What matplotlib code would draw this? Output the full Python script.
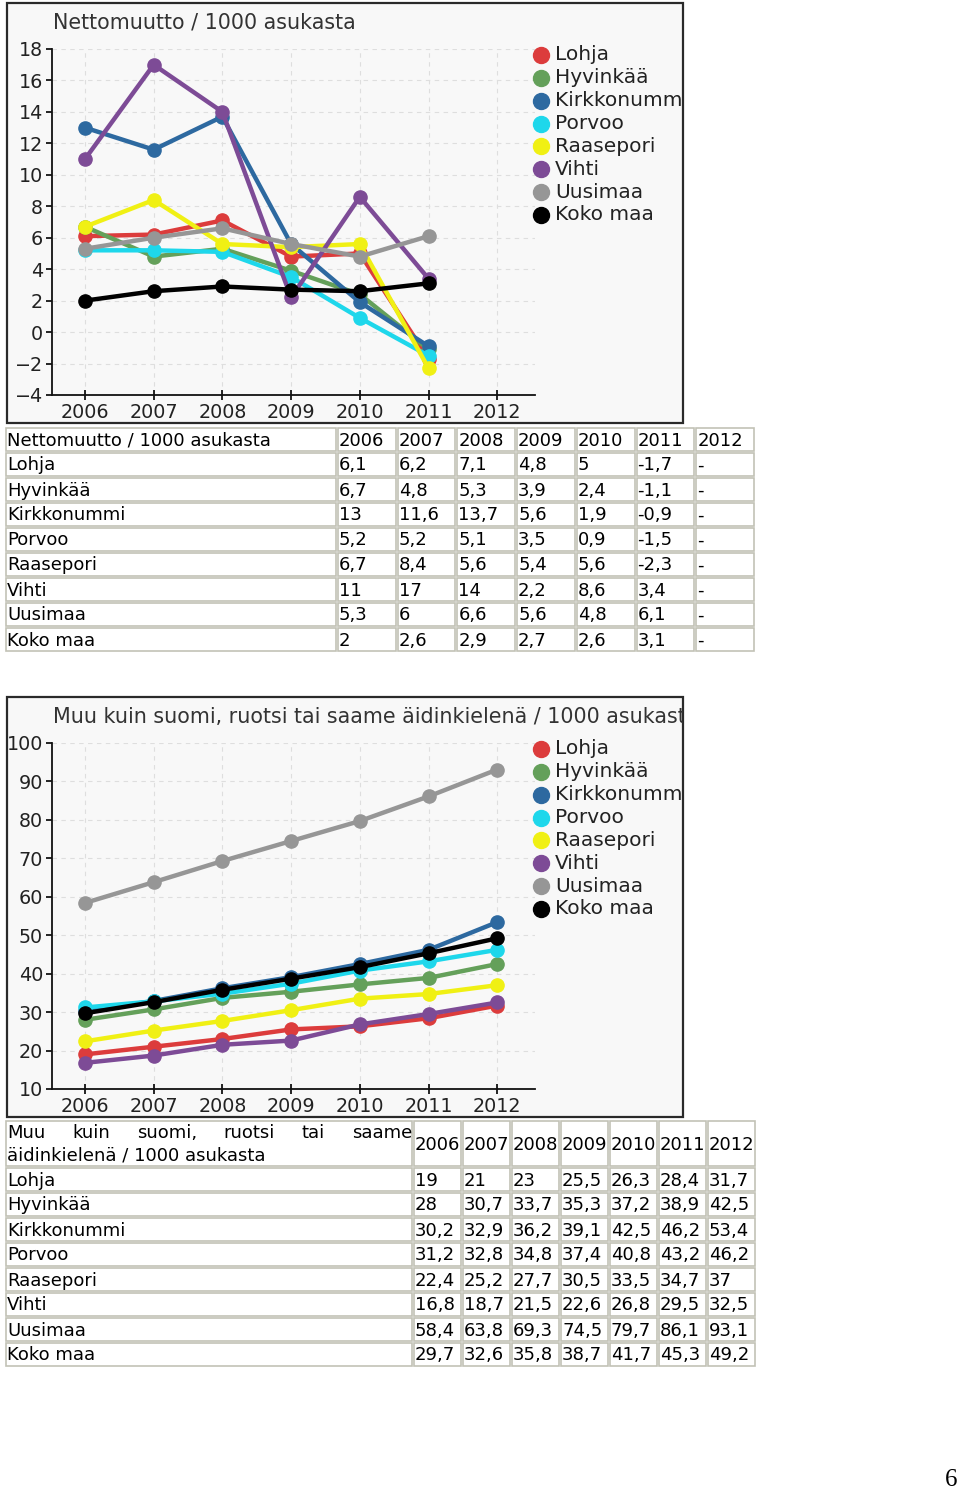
import numpy as np
import matplotlib.pyplot as plt
from matplotlib.patches import Rectangle
from matplotlib.lines import Line2D
from matplotlib.transforms import Bbox

OUTPUT_FILENAME = "out.png"
W, H = 960, 1491

# --- data ---
YEARS = [2006, 2007, 2008, 2009, 2010, 2011, 2012]
SERIES = ["Lohja", "Hyvinkää", "Kirkkonummi", "Porvoo", "Raasepori",
          "Vihti", "Uusimaa", "Koko maa"]
COLORS = ["#dc3c3c", "#64a05a", "#2d69a0", "#1ed7eb", "#f0f014",
          "#7d4b96", "#969696", "#000000"]

NET_TITLE = "Nettomuutto / 1000 asukasta"
net_lohja = [6.1, 6.2, 7.1, 4.8, 5, -1.7, None]
net_hyvinkaa = [6.7, 4.8, 5.3, 3.9, 2.4, -1.1, None]
net_kirkkonummi = [13, 11.6, 13.7, 5.6, 1.9, -0.9, None]
net_porvoo = [5.2, 5.2, 5.1, 3.5, 0.9, -1.5, None]
net_raasepori = [6.7, 8.4, 5.6, 5.4, 5.6, -2.3, None]
net_vihti = [11, 17, 14, 2.2, 8.6, 3.4, None]
net_uusimaa = [5.3, 6, 6.6, 5.6, 4.8, 6.1, None]
net_koko_maa = [2, 2.6, 2.9, 2.7, 2.6, 3.1, None]

LANG_TITLE = "Muu kuin suomi, ruotsi tai saame äidinkielenä / 1000 asukasta"
LANG_HEADER_LINE1 = ["Muu", "kuin", "suomi,", "ruotsi", "tai", "saame"]
LANG_HEADER_LINE2 = "äidinkielenä / 1000 asukasta"
lang_lohja = [19, 21, 23, 25.5, 26.3, 28.4, 31.7]
lang_hyvinkaa = [28, 30.7, 33.7, 35.3, 37.2, 38.9, 42.5]
lang_kirkkonummi = [30.2, 32.9, 36.2, 39.1, 42.5, 46.2, 53.4]
lang_porvoo = [31.2, 32.8, 34.8, 37.4, 40.8, 43.2, 46.2]
lang_raasepori = [22.4, 25.2, 27.7, 30.5, 33.5, 34.7, 37]
lang_vihti = [16.8, 18.7, 21.5, 22.6, 26.8, 29.5, 32.5]
lang_uusimaa = [58.4, 63.8, 69.3, 74.5, 79.7, 86.1, 93.1]
lang_koko_maa = [29.7, 32.6, 35.8, 38.7, 41.7, 45.3, 49.2]

NET_ROWS = [net_lohja, net_hyvinkaa, net_kirkkonummi, net_porvoo,
            net_raasepori, net_vihti, net_uusimaa, net_koko_maa]
LANG_ROWS = [lang_lohja, lang_hyvinkaa, lang_kirkkonummi, lang_porvoo,
             lang_raasepori, lang_vihti, lang_uusimaa, lang_koko_maa]

FONT = "DejaVu Sans"
CELL_EDGE = "#c2c2b6"


def fx(x):
    return x / W


def fy(y):
    return 1 - y / H


def fmt(v):
    """Finnish number formatting used in the tables."""
    if v is None:
        return "-"
    if float(v).is_integer():
        return str(int(v))
    return f"{v:.1f}".replace(".", ",")


def draw_chart(fig, top, title, rows, ymin, ymax, ystep):
    """Chart box with title, axes and a hand placed legend."""
    frame = Rectangle((fx(7), fy(top + 420)), 676 / W, 420 / H,
                      transform=fig.transFigure, facecolor="#f8f8f8",
                      edgecolor="#2a2a2a", lw=1.6, zorder=-1)
    fig.add_artist(frame)
    clip = Bbox.from_extents(7, H - top - 420, 683, H - top)

    ax = fig.add_axes([fx(52), fy(top + 392), 483 / W, 346 / H])
    ax.set_facecolor("none")
    for vals, color in zip(rows, COLORS):
        y = np.array([np.nan if v is None else v for v in vals], dtype=float)
        ax.plot(YEARS, y, color=color, lw=3.2, marker="o", ms=9.5,
                solid_joinstyle="round", solid_capstyle="round")

    ax.set_xlim(2005.52, 2012.55)
    ax.set_ylim(ymin, ymax)
    ax.set_xticks(YEARS)
    ax.set_yticks(np.arange(ymin, ymax + 0.1, ystep))
    ax.set_yticklabels([str(int(v)).replace("-", "\u2212")
                        for v in np.arange(ymin, ymax + 0.1, ystep)])
    ax.grid(True, color="#dedede", linestyle=(0, (4, 4)), lw=0.8)
    ax.set_axisbelow(True)
    for s in ("top", "right"):
        ax.spines[s].set_visible(False)
    for s in ("left", "bottom"):
        ax.spines[s].set_linewidth(1.3)
        ax.spines[s].set_color("#111111")
    ax.tick_params(axis="y", direction="out", length=4, width=1.2,
                   pad=2.5, labelsize=13.8, labelcolor="#222222")
    ax.tick_params(axis="x", direction="inout", length=7, width=1.2,
                   pad=2, labelsize=13.8, labelcolor="#222222")
    for lab in ax.get_xticklabels() + ax.get_yticklabels():
        lab.set_family(FONT)

    t = fig.text(fx(53), fy(top + 20), title, fontsize=14.9,
                 color="#333333", va="center", family=FONT)
    t.set_clip_box(clip)

    for i, (name, color) in enumerate(zip(SERIES, COLORS)):
        y = top + 52 + i * 22.85
        fig.add_artist(Line2D([fx(541)], [fy(y)], transform=fig.transFigure,
                              marker="o", ms=11.5, color=color, lw=0))
        lt = fig.text(fx(555), fy(y), name, fontsize=14.5, color="#222222",
                      va="center", family=FONT)
        lt.set_clip_box(clip)


def draw_cell(fig, x0, y0, x1, y1):
    fig.add_artist(Rectangle((fx(x0 + 1), fy(y1 - 1)), (x1 - x0 - 2) / W,
                             (y1 - y0 - 2) / H, transform=fig.transFigure,
                             facecolor="white", edgecolor=CELL_EDGE, lw=1.2))


def draw_table(fig, top, col_edges, header_h, row_h, header_draw, rows):
    y = top
    for c0, c1 in zip(col_edges[:-1], col_edges[1:]):
        draw_cell(fig, c0, y, c1, y + header_h)
    header_draw(y, y + header_h)
    for j, yr in enumerate(YEARS):
        fig.text(fx(col_edges[j + 1] + 2), fy(y + header_h / 2 + 1), str(yr),
                 fontsize=13, va="center", family=FONT)
    y += header_h
    for name, vals in zip(SERIES, rows):
        for c0, c1 in zip(col_edges[:-1], col_edges[1:]):
            draw_cell(fig, c0, y, c1, y + row_h)
        fig.text(fx(col_edges[0] + 2), fy(y + row_h / 2 + 1), name,
                 fontsize=13, va="center", family=FONT)
        for j, v in enumerate(vals):
            fig.text(fx(col_edges[j + 1] + 2), fy(y + row_h / 2 + 1), fmt(v),
                     fontsize=13, va="center", family=FONT)
        y += row_h


def justified_line(fig, words, x0, x1, y, **kw):
    renderer = fig.canvas.get_renderer()
    texts = [fig.text(0, fy(y), w, **kw) for w in words]
    widths = [t.get_window_extent(renderer).width for t in texts]
    gap = ((x1 - x0) - sum(widths)) / (len(words) - 1)
    x = x0
    for t, w in zip(texts, widths):
        t.set_x(fx(x))
        x += w + gap


def main():
    fig = plt.figure(figsize=(W / 100, H / 100), dpi=100)
    fig.patch.set_facecolor("white")

    draw_chart(fig, 3, NET_TITLE, NET_ROWS, -4, 18, 2)
    draw_chart(fig, 697, LANG_TITLE, LANG_ROWS, 10, 100, 10)

    net_cols = [5] + [337 + 59.7 * i for i in range(8)]
    draw_table(fig, 427, net_cols, 25, 25,
               lambda y0, y1: fig.text(fx(7), fy((y0 + y1) / 2 + 1), NET_TITLE,
                                       fontsize=13, va="center", family=FONT),
               NET_ROWS)

    lang_cols = [5] + [413 + 49 * i for i in range(8)]

    def lang_header(y0, y1):
        justified_line(fig, LANG_HEADER_LINE1, 7, 412, y0 + 13,
                       fontsize=13, va="center", family=FONT)
        fig.text(fx(7), fy(y0 + 35), LANG_HEADER_LINE2, fontsize=13,
                 va="center", family=FONT)

    draw_table(fig, 1120, lang_cols, 47, 25, lang_header, LANG_ROWS)

    fig.text(fx(951), fy(1480), "6", fontsize=18, ha="center", va="center",
             family="Liberation Serif")

    fig.savefig(OUTPUT_FILENAME, dpi=100)


if __name__ == "__main__":
    main()
